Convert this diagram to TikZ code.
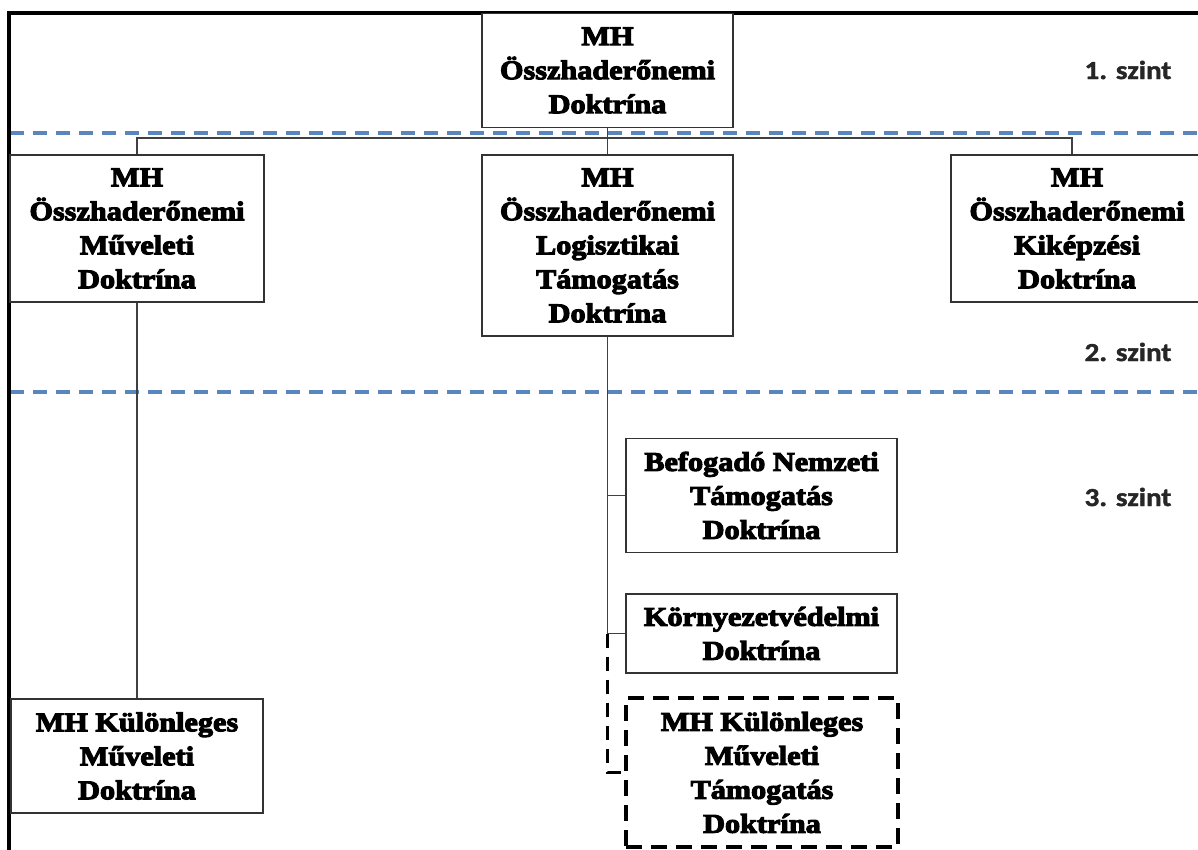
\documentclass[tikz,border=0pt]{standalone}
\usepackage{fontspec}
\newfontfamily\boxfont{Liberation Serif}[FakeStretch=1.12,BoldFeatures={FakeBold=4}]
\newfontfamily\lvlfont{Carlito}[FakeStretch=1.12,BoldFeatures={FakeBold=1.5}]
\definecolor{blueline}{HTML}{5A86BE}
\begin{document}
\begin{tikzpicture}[x=1pt,y=-1pt,
  box/.style={draw=black!80, line width=1.6pt, fill=white, align=center, inner sep=0pt,
    font=\boxfont\bfseries\fontsize{27}{34}\selectfont},
  dbox/.style={box, draw=black, line width=3.2pt, dash pattern=on 16pt off 9pt},
  conn/.style={draw=black!75, line width=1.6pt},
  dconn/.style={draw=black, line width=3.4pt, dash pattern=on 14pt off 9pt},
  lvl/.style={font=\lvlfont\bfseries\fontsize{26}{30}\selectfont, text=black!85},
  sep/.style={draw=blueline, line width=3.6pt, dash pattern=on 14pt off 9pt}]
\useasboundingbox (0,0) rectangle (1198,850);
% level separators
\coordinate (s1a) at (10,133);
\coordinate (s1b) at (1200,133);
\coordinate (s2a) at (10,392);
\coordinate (s2b) at (1200,392);
\draw[sep] (s1a) -- (s1b);
\draw[sep] (s2a) -- (s2b);
% frame
\coordinate (f1) at (9,852);
\coordinate (f2) at (9,13);
\coordinate (f3) at (1200,13);
\draw[line width=3.6pt] (f1) -- (f2) -- (f3);
% boxes
\node[box, minimum width=251, minimum height=114] (T) at (607.5,70.5) {MH\\Összhaderőnemi\\Doktrína};
\node[box, minimum width=254, minimum height=147] (L) at (137,228.5) {MH\\Összhaderőnemi\\Műveleti\\Doktrína};
\node[box, minimum width=251, minimum height=181] (M) at (607.5,245.5) {MH\\Összhaderőnemi\\Logisztikai\\Támogatás\\Doktrína};
\node[box, minimum width=252, minimum height=147] (R) at (1077,228.5) {MH\\Összhaderőnemi\\Kiképzési\\Doktrína};
\node[box, minimum width=252, minimum height=114] (BL) at (137,756) {MH Különleges\\Műveleti\\Doktrína};
\node[box, minimum width=271, minimum height=114] (B) at (761.5,495.5) {Befogadó Nemzeti\\Támogatás\\Doktrína};
\node[box, minimum width=271, minimum height=79] (K) at (761.5,633.5) {Környezetvédelmi\\Doktrína};
\node[dbox, minimum width=272, minimum height=149] (D) at (762,772.5) {MH Különleges\\Műveleti\\Támogatás\\Doktrína};
% connectors
\coordinate (bar) at (607.5,138);
\draw[conn] (T.south) -- (M.north);
\draw[conn] (L.north) |- (bar) -| ([xshift=-5pt]R.north);
\draw[conn] (L.south) -- (BL.north);
\draw[conn] (M.south) |- (B.west);
\draw[conn] (M.south) |- (K.west);
\draw[dconn] (M.south |- K.west) |- (D.west);
% level labels
\node[lvl] (l1) at (1128,70) {1. szint};
\node[lvl] (l2) at (1128,352) {2. szint};
\node[lvl] (l3) at (1128,497) {3. szint};
\end{tikzpicture}
\end{document}
